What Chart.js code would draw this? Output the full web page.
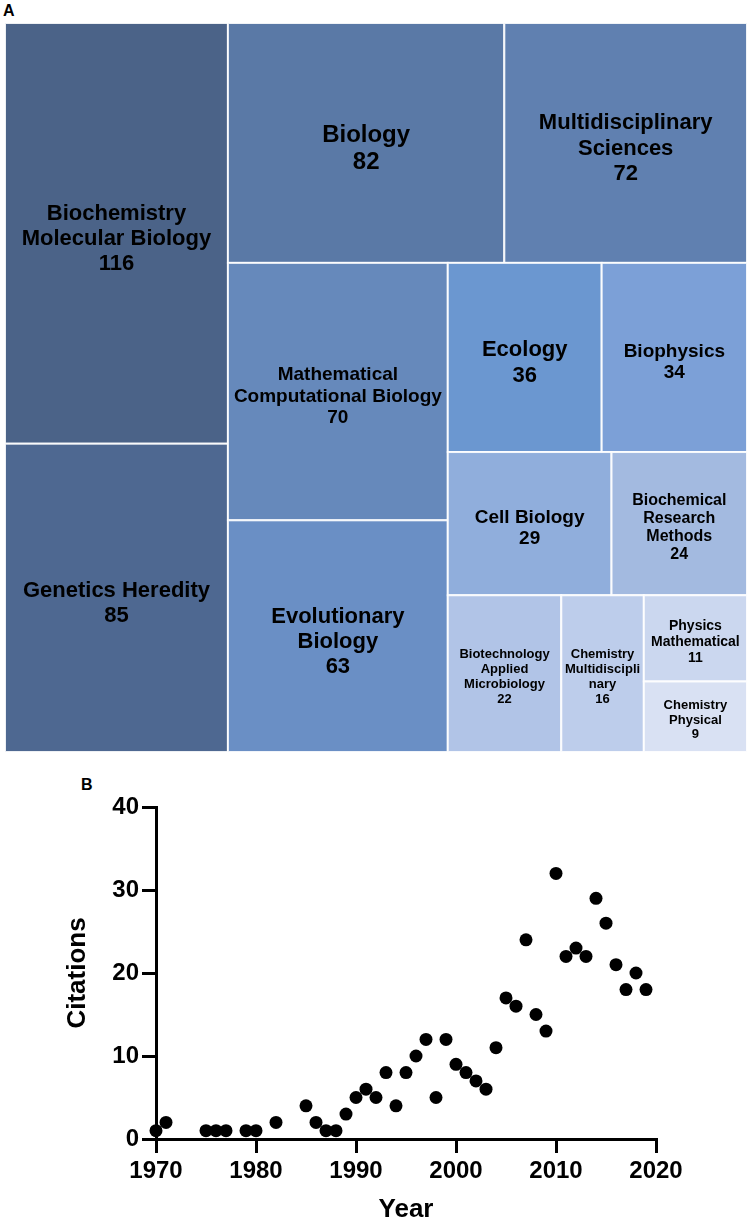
<!DOCTYPE html>
<html>
<head>
<meta charset="utf-8">
<script src="https://cdn.jsdelivr.net/npm/chart.js@4.4.1/dist/chart.umd.min.js"></script>
<style>
  html, body { margin: 0; padding: 0; background: #fff; }
  body { width: 752px; height: 1225px; position: relative; overflow: hidden; font-family: "Liberation Sans", Arial, sans-serif; }
  .panel { position: absolute; font-weight: bold; font-size: 16px; line-height: 16px; color: #000; }
  canvas { position: absolute; left: 0; }
</style>
</head>
<body>
<div class="panel" style="left:3px;top:3px">A</div>
<div class="panel" style="left:81px;top:777px">B</div>
<canvas id="treemap" width="752" height="760" style="top:0"></canvas>
<canvas id="scatter" width="752" height="455" style="top:770px"></canvas>
<script>
// panel A: research fields and record counts
const fields = [
  "Biochemistry\nMolecular Biology",
  "Genetics Heredity",
  "Biology",
  "Multidisciplinary\nSciences",
  "Mathematical\nComputational Biology",
  "Evolutionary\nBiology",
  "Ecology",
  "Biophysics",
  "Cell Biology",
  "Biochemical\nResearch\nMethods",
  "Biotechnology\nApplied\nMicrobiology",
  "Chemistry\nMultidiscipli\nnary",
  "Physics\nMathematical",
  "Chemistry\nPhysical"
];
const fieldCounts = [116, 85, 82, 72, 70, 63, 36, 34, 29, 24, 22, 16, 11, 9];

// panel B: citations per year
const years = [1970, 1971, 1975, 1976, 1977, 1979, 1980, 1982, 1985, 1986, 1987, 1988, 1989,
  1990, 1991, 1992, 1993, 1994, 1995, 1996, 1997, 1998, 1999, 2000, 2001, 2002, 2003, 2004,
  2005, 2006, 2007, 2008, 2009, 2010, 2011, 2012, 2013, 2014, 2015, 2016, 2017, 2018, 2019];
const citations = [1, 2, 1, 1, 1, 1, 1, 2, 4, 2, 1, 1, 3,
  5, 6, 5, 8, 4, 8, 10, 12, 5, 12, 9, 8, 7, 6, 11,
  17, 16, 24, 15, 13, 32, 22, 23, 22, 29, 26, 21, 18, 20, 18];
const yearTicks = [1970, 1980, 1990, 2000, 2010, 2020];
const citationTicks = [0, 10, 20, 30, 40];

// styling for the treemap cells
const cellColors = ["#4b6388", "#4e6891", "#5a79a6", "#6080b0", "#6689bb", "#6a8fc5", "#6b97d0",
  "#7ca0d7", "#90aedc", "#a3bae0", "#b1c4e7", "#bdcdeb", "#cbd7ef", "#d9e1f3"];
const labelSizes = [22, 22, 24, 22, 19, 22, 22, 19, 19, 16, 13, 13, 14, 13];

Chart.defaults.font.family = '"Liberation Sans", Arial, sans-serif';
Chart.defaults.color = "#000";

// strip layout: keep adding cells to a strip while the newest cell gets squarer
function layoutCells(values, aspect) {
  const rects = [];
  let x0 = 0, y0 = 0, x1 = 1, y1 = 1;
  let rest = values.reduce((a, b) => a + b, 0);
  let i = 0;
  while (i < values.length) {
    const w = (x1 - x0) * aspect, h = y1 - y0;
    const unit = w * h / rest;
    const column = w >= h;
    const side = column ? h : w;
    const ratio = (sum, v) => {
      const thick = sum * unit / side;
      const len = v * unit / thick;
      return Math.max(thick / len, len / thick);
    };
    let sum = values[i], j = i + 1;
    let last = ratio(sum, values[i]);
    while (j < values.length) {
      const r = ratio(sum + values[j], values[j]);
      if (r > last) break;
      sum += values[j];
      last = r;
      j++;
    }
    const frac = sum / rest;
    if (column) {
      const xe = x0 + (x1 - x0) * frac;
      let yy = y0;
      for (let k = i; k < j; k++) {
        const hh = (y1 - y0) * values[k] / sum;
        rects.push({ x0: x0, x1: xe, y0: yy, y1: yy + hh });
        yy += hh;
      }
      x0 = xe;
    } else {
      const ye = y0 + (y1 - y0) * frac;
      let xx = x0;
      for (let k = i; k < j; k++) {
        const ww = (x1 - x0) * values[k] / sum;
        rects.push({ x0: xx, x1: xx + ww, y0: y0, y1: ye });
        xx += ww;
      }
      y0 = ye;
    }
    rest -= sum;
    i = j;
  }
  return rects;
}

const treemapCells = {
  id: "treemapCells",
  afterDatasetsDraw(chart) {
    const { ctx, chartArea, scales } = chart;
    const rects = layoutCells(fieldCounts, chartArea.width / chartArea.height);
    ctx.save();
    rects.forEach((r, i) => {
      const left = scales.x.getPixelForValue(r.x0);
      const right = scales.x.getPixelForValue(r.x1);
      const top = scales.y.getPixelForValue(r.y0);
      const bottom = scales.y.getPixelForValue(r.y1);
      ctx.fillStyle = cellColors[i];
      ctx.fillRect(left, top, right - left, bottom - top);
      ctx.strokeStyle = "rgba(255,255,255,0.9)";
      ctx.lineWidth = 2;
      ctx.strokeRect(left, top, right - left, bottom - top);

      const size = labelSizes[i];
      const lines = fields[i].split("\n").concat(String(fieldCounts[i]));
      const lh = size * 1.14;
      const cx = (left + right) / 2;
      const cy = (top + bottom) / 2 + size * 0.25;
      ctx.fillStyle = "#000";
      ctx.font = "bold " + size + 'px "Liberation Sans", Arial, sans-serif';
      ctx.textAlign = "center";
      ctx.textBaseline = "middle";
      lines.forEach((t, k) => {
        ctx.fillText(t, cx, cy + (k - (lines.length - 1) / 2) * lh);
      });
    });
    ctx.restore();
  }
};

new Chart(document.getElementById("treemap"), {
  type: "scatter",
  data: { datasets: [{ data: [] }] },
  options: {
    responsive: false,
    animation: false,
    layout: { padding: { left: 5, right: 5, top: 23, bottom: 8 } },
    plugins: { legend: { display: false }, tooltip: { enabled: false } },
    scales: {
      x: { type: "linear", min: 0, max: 1, display: false },
      y: { type: "linear", min: 0, max: 1, reverse: true, display: false }
    }
  },
  plugins: [treemapCells]
});

const tickFont = { size: 24, weight: "bold" };
const titleFont = { size: 26, weight: "bold" };
const axisGrid = { display: true, drawOnChartArea: false, drawTicks: true, tickLength: 14, tickWidth: 3, tickColor: "#000", color: "#000", lineWidth: 3 };
const axisBorder = { display: true, color: "#000", width: 3 };

new Chart(document.getElementById("scatter"), {
  type: "scatter",
  data: {
    datasets: [{
      data: years.map((y, i) => ({ x: y, y: citations[i] })),
      backgroundColor: "#000",
      borderColor: "#000",
      borderWidth: 0,
      pointRadius: 6.5,
      pointHoverRadius: 6.5,
      clip: false
    }]
  },
  options: {
    responsive: false,
    animation: false,
    layout: { padding: { left: 0, top: 37, right: 96, bottom: 0 } },
    plugins: { legend: { display: false }, tooltip: { enabled: false } },
    scales: {
      x: {
        type: "linear",
        min: 1970,
        max: 2020,
        afterBuildTicks: s => { s.ticks = yearTicks.map(v => ({ value: v })); },
        afterFit: s => { s.height = 86; },
        grid: axisGrid,
        border: axisBorder,
        ticks: { color: "#000", padding: 4, font: tickFont, maxRotation: 0, autoSkip: false, callback: v => String(v) },
        title: { display: true, text: "Year", color: "#000", font: titleFont, padding: { top: 0, bottom: 0 } }
      },
      y: {
        type: "linear",
        min: 0,
        max: 40,
        afterBuildTicks: s => { s.ticks = citationTicks.map(v => ({ value: v })); },
        afterFit: s => { s.width = 156; },
        grid: axisGrid,
        border: axisBorder,
        ticks: { color: "#000", padding: 3, font: tickFont, autoSkip: false, callback: v => String(v) },
        title: { display: true, text: "Citations", color: "#000", font: titleFont, padding: { top: 62, bottom: 0 } }
      }
    }
  }
});
</script>
</body>
</html>
